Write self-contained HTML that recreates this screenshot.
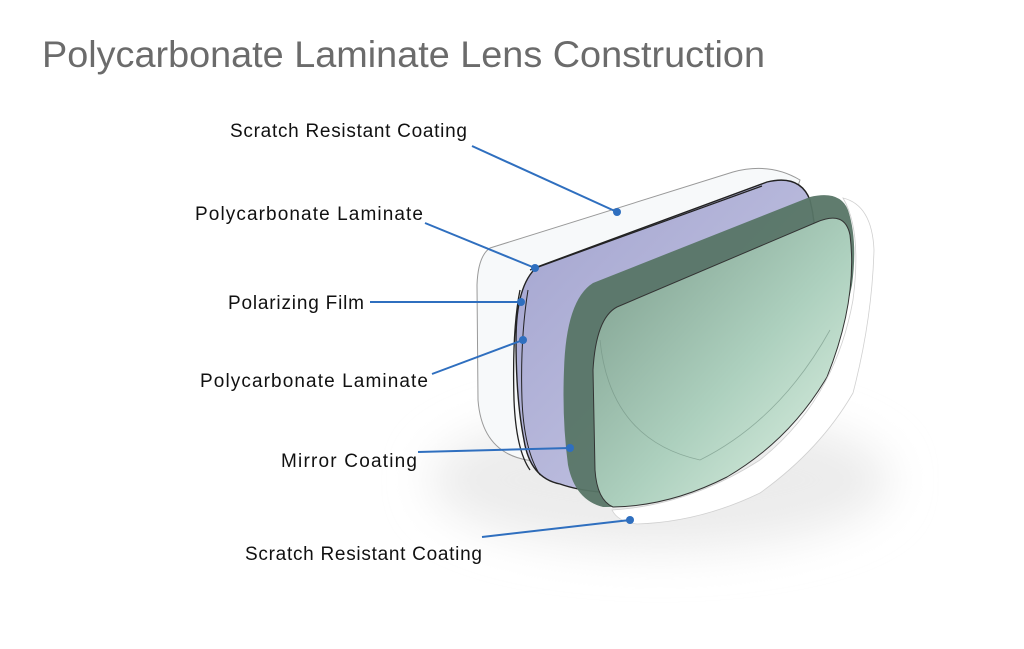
<!DOCTYPE html>
<html><head><style>
body{margin:0;background:#fff;width:1024px;height:644px;overflow:hidden;font-family:"Liberation Sans",sans-serif}
</style></head><body>
<svg width="1024" height="644" viewBox="0 0 1024 644" xmlns="http://www.w3.org/2000/svg">
<defs>
<linearGradient id="pur" x1="0" y1="0" x2="1" y2="1"><stop offset="0" stop-color="#a3a4cf"/><stop offset="1" stop-color="#c9cae6"/></linearGradient>
<linearGradient id="grn" x1="0" y1="0" x2="1" y2="1"><stop offset="0" stop-color="#7a9a8a"/><stop offset="0.55" stop-color="#add0be"/><stop offset="1" stop-color="#e4f5e8"/></linearGradient>
<filter id="sh" x="-30%" y="-50%" width="160%" height="200%"><feGaussianBlur stdDeviation="22"/></filter>
</defs>
<text x="42" y="67" font-size="37" fill="#6b6b6b" textLength="723" lengthAdjust="spacingAndGlyphs">Polycarbonate Laminate Lens Construction</text>
<ellipse cx="660" cy="480" rx="230" ry="70" fill="#ececec" filter="url(#sh)"/>
<!-- back clear lens -->
<path d="M490 248 L733 172 Q770 162 800 180 L700 470 Q600 470 527 460 Q482 452 478 400 L477 285 Q478 256 490 248Z" fill="#f7f9fa" stroke="#999" stroke-width="1"/>
<!-- purple lens -->
<path d="M537 267 L767 182 Q800 174 810 200 Q820 240 812 290 L600 492 Q577 490 560 484 Q530 478 524 440 Q516 400 516 340 Q516 285 537 267Z" fill="url(#pur)" stroke="#222" stroke-width="1.4"/>
<path d="M530 270 L762 186" stroke="#222" stroke-width="1.2" fill="none"/>
<path d="M520 290 Q512 330 514 400 Q516 450 530 470" stroke="#222" stroke-width="1.3" fill="none"/>
<path d="M528 290 Q520 340 522 400 Q524 450 540 475" stroke="#222" stroke-width="1" fill="none"/>
<!-- dark green -->
<path d="M593 283 L810 197 Q840 190 848 210 Q858 240 852 285 Q830 400 700 480 Q640 508 603 507 Q575 500 568 465 Q562 420 564 370 Q566 300 593 283Z" fill="#577566" opacity="0.95"/>
<!-- light green -->
<path d="M617 307 L817 222 Q845 210 850 235 Q858 300 827 377 Q790 440 727 477 Q670 506 613 507 Q597 500 595 470 L593 370 Q596 318 617 307Z" fill="url(#grn)" stroke="#333" stroke-width="1"/>
<path d="M600 340 Q610 440 700 460 Q780 420 830 330" stroke="#6f8f80" stroke-width="0.8" fill="none" opacity="0.6"/>
<!-- front white -->
<path d="M843 198 Q872 205 874 250 Q872 320 853 393 Q820 450 760 493 Q700 522 637 524 Q618 522 612 510 Q690 505 760 460 Q835 400 853 300 Q862 230 843 198Z" fill="#fff" stroke="#d0d0d0" stroke-width="0.8"/>
<g stroke="#2f6fbf" stroke-width="2" fill="none">
<line x1="472" y1="146" x2="617" y2="212"/>
<line x1="425" y1="223" x2="535" y2="268"/>
<line x1="370" y1="302" x2="521" y2="302"/>
<line x1="432" y1="374" x2="523" y2="340"/>
<line x1="418" y1="452" x2="570" y2="448"/>
<line x1="482" y1="537" x2="630" y2="520"/>
</g>
<g fill="#2f6fbf">
<circle cx="617" cy="212" r="4"/><circle cx="535" cy="268" r="4"/><circle cx="521" cy="302" r="4"/>
<circle cx="523" cy="340" r="4"/><circle cx="570" cy="448" r="4"/><circle cx="630" cy="520" r="4"/>
</g>
<g font-size="19" fill="#111" lengthAdjust="spacingAndGlyphs">
<text x="230" y="137" textLength="237">Scratch Resistant Coating</text>
<text x="195" y="220" textLength="228">Polycarbonate Laminate</text>
<text x="228" y="309" textLength="136">Polarizing Film</text>
<text x="200" y="387" textLength="228">Polycarbonate Laminate</text>
<text x="281" y="467" textLength="136">Mirror Coating</text>
<text x="245" y="560" textLength="237">Scratch Resistant Coating</text>
</g>
</svg>
</body></html>
